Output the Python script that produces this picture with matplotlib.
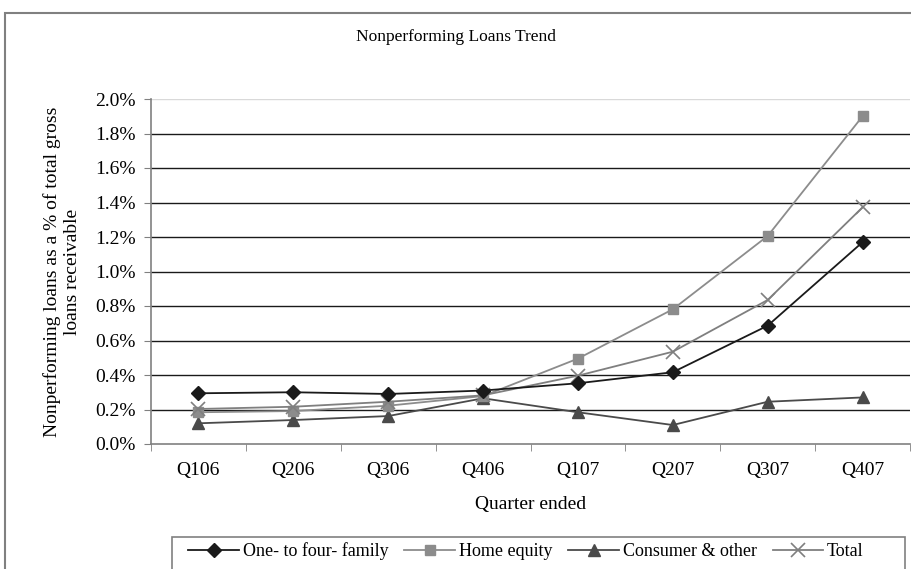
import matplotlib
matplotlib.use("Agg")
import matplotlib.pyplot as plt
from matplotlib.patches import Rectangle
from matplotlib.ticker import FuncFormatter, FixedLocator

quarters = ["Q106", "Q206", "Q306", "Q406", "Q107", "Q207", "Q307", "Q407"]
one_to_four = [0.294, 0.300, 0.290, 0.310, 0.352, 0.416, 0.686, 1.170]
home_equity = [0.184, 0.191, 0.222, 0.278, 0.495, 0.781, 1.206, 1.900]
consumer = [0.120, 0.139, 0.162, 0.265, 0.184, 0.110, 0.245, 0.270]
total = [0.203, 0.216, 0.245, 0.282, 0.396, 0.535, 0.835, 1.372]
yticks = [0.0, 0.2, 0.4, 0.6, 0.8, 1.0, 1.2, 1.4, 1.6, 1.8, 2.0]

plt.rcParams['font.family'] = ['Liberation Serif', 'DejaVu Serif']
W, H = 912, 569
FS = 14
fig = plt.figure(figsize=(W / 100, H / 100), dpi=100)
fig.patch.set_facecolor('white')

def fx(px):
    return px / W

def fy(py):
    return 1 - py / H

ax = fig.add_axes([fx(151), fy(444), fx(910) - fx(151), fy(99) - fy(444)])
x = list(range(len(quarters)))

for yv in yticks[1:]:
    col = '#d9d9d9' if yv == 2.0 else '#1a1a1a'
    ax.axhline(yv, color=col, lw=1.0, zorder=1)

s1, = ax.plot(x, one_to_four, color='#1a1a1a', lw=1.3, marker='D', ms=7, zorder=5,
              label='One- to four- family')
s2, = ax.plot(x, home_equity, color='#8c8c8c', lw=1.3, marker='s', ms=7.5, zorder=4,
              label='Home equity')
s3, = ax.plot(x, consumer, color='#4a4a4a', lw=1.3, marker='^', ms=9, zorder=3,
              label='Consumer & other')
s4, = ax.plot(x, total, color='#7f7f7f', lw=1.3, marker='x', ms=10, mew=1.2, zorder=4,
              label='Total')

ax.set_xlim(-0.5, len(quarters) - 0.5)
ax.set_ylim(0, 2.0)
ax.set_yticks(yticks)
ax.yaxis.set_major_formatter(FuncFormatter(lambda v, p: f"{v:.1f}%"))
ax.set_xticks(x)
ax.set_xticklabels(quarters)
ax.xaxis.set_minor_locator(FixedLocator([i + 0.5 for i in range(-1, len(quarters))]))
ax.tick_params(axis='x', which='major', length=0, labelsize=FS, pad=13)
ax.tick_params(axis='x', which='minor', length=5, color='#808080', direction='out')
ax.tick_params(axis='y', length=5, color='#808080', labelsize=FS, pad=6)
for side in ['top', 'right']:
    ax.spines[side].set_visible(False)
for side in ['left', 'bottom']:
    ax.spines[side].set_color('#808080')
    ax.spines[side].set_linewidth(1.2)

ax.set_xlabel('Quarter ended', fontsize=FS, labelpad=12)
ax.set_ylabel('Nonperforming loans as a % of total gross\nloans receivable', fontsize=FS,
              labelpad=10, linespacing=1.25)

fig.text(fx(456), fy(37), 'Nonperforming Loans Trend', ha='center', va='center', fontsize=12.5)

# outer chart border (cropped at right and bottom)
fig.patches.append(Rectangle((fx(5), fy(600)), fx(1000), fy(13) - fy(600), transform=fig.transFigure,
                             fill=False, edgecolor='#808080', lw=1.5))
# legend box (cropped at bottom)
fig.patches.append(Rectangle((fx(172), fy(600)), fx(905) - fx(172), fy(537) - fy(600),
                             transform=fig.transFigure, fill=False, edgecolor='#808080', lw=1.2))
leg = fig.legend(handles=[s1, s2, s3, s4], loc='center', bbox_to_anchor=(fx(526), fy(551)),
                 ncol=4, frameon=False, fontsize=13, handlelength=2.8, columnspacing=0.9,
                 handletextpad=0.2, borderaxespad=0)

fig.savefig('out.png', dpi=100, facecolor='white')
